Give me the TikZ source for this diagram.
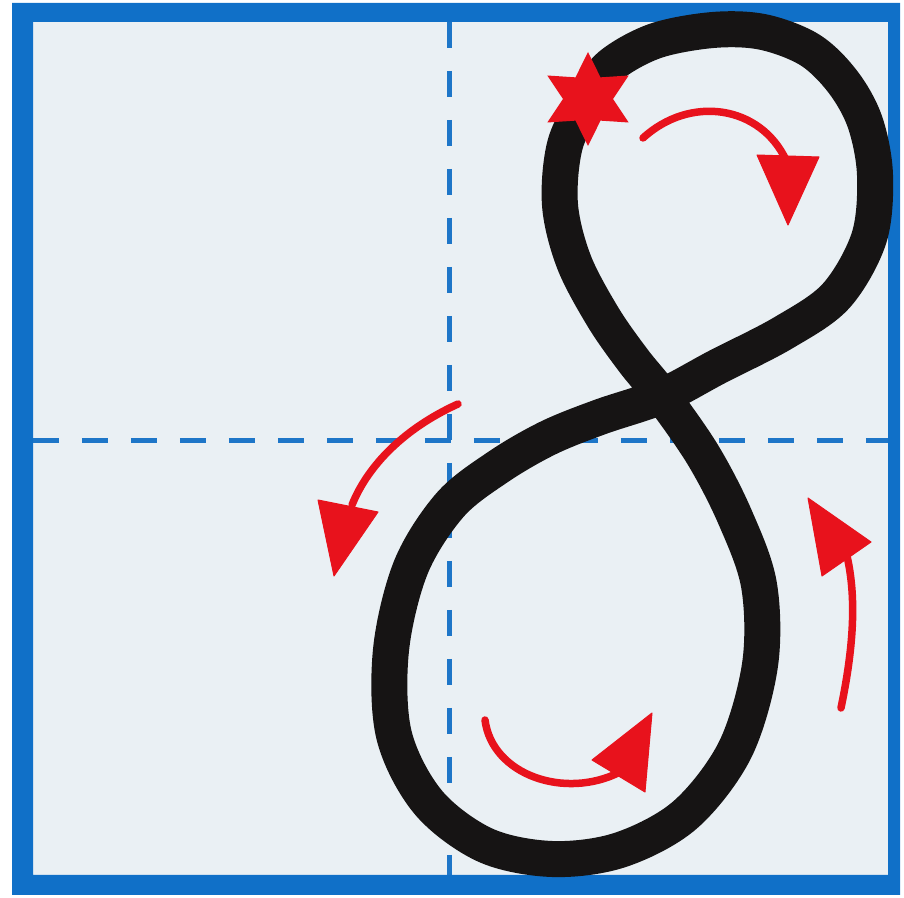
\documentclass[tikz,border=0pt]{standalone}
\usetikzlibrary{calc}
\definecolor{frameblue}{RGB}{16,112,200}
\definecolor{dashblue}{RGB}{30,118,200}
\definecolor{paper}{RGB}{234,240,244}
\definecolor{penred}{RGB}{232,18,28}
\definecolor{ink}{RGB}{22,20,20}
\tikzset{
  guide/.style={dashblue, line width=0.1cm, dash pattern=on 0.52cm off 0.46cm},
  strokeeight/.style={ink, line width=0.72cm, line join=round},
  redshaft/.style={penred, line width=0.15cm, line cap=round},
  redhead/.style={fill=penred, draw=penred, line width=0.02cm, line join=round}
}
\begin{document}
\begin{tikzpicture}[x=0.02cm,y=-0.02cm]
\useasboundingbox (0,0) rectangle (904,898);
\fill[white] (0,0) rectangle (904,898);
\fill[paper] (33,22) rectangle (888,875);
% guide lines
\draw[guide] (449,22) -- (449,875);
\draw[guide] (33,441) -- (888,441);
% frame
\fill[frameblue, even odd rule] (12,3) rectangle (900,895) (33,22) rectangle (888,875);
% the figure eight
\draw[strokeeight] plot[smooth cycle, tension=0.55] coordinates {
  (588,98) (610,66) (655,41) (713,30) (763,32) (810,50) (843,82) (865,122)
  (875,175) (869,238) (836,296) (783,333) (717,367) (662,396)
  (600,417) (548,438) (498,467) (450,505)
  (411,567) (391,650) (394,735) (428,802) (485,845) (552,859) (620,850)
  (685,815) (735,750) (760,665) (759,585) (735,517) (703,455) (662,396)
  (633,360) (603,317) (574,262) (560,205) (565,145)};
% arrow 1: top loop
\draw[redshaft] (643,138) .. controls (690,95) and (760,105) .. (786,160);
\filldraw[redhead] (757,155) -- (819,157) -- (788,225) -- cycle;
% arrow 2: middle left
\draw[redshaft] (458,404) .. controls (405,428) and (368,465) .. (352,505);
\filldraw[redhead] (318,500) -- (378,512) -- (334,576) -- cycle;
% arrow 3: bottom loop
\draw[redshaft] (485,720) .. controls (492,775) and (565,800) .. (620,772);
\filldraw[redhead] (592,760) -- (652,713) -- (645,792) -- cycle;
% arrow 4: right
\draw[redshaft] (841,708) .. controls (853,650) and (857,600) .. (847,556);
\filldraw[redhead] (808,498) -- (871,542) -- (822,576) -- cycle;
% start star
\fill[penred] (588,99) +(90:47) -- +(120:25) -- +(150:47) -- +(180:25) -- +(210:47) -- +(240:25)
  -- +(270:47) -- +(300:25) -- +(330:47) -- +(0:25) -- +(30:47) -- +(60:25) -- cycle;
\end{tikzpicture}
\end{document}
